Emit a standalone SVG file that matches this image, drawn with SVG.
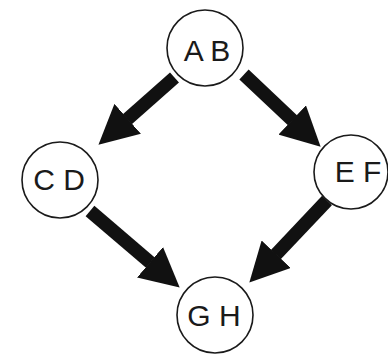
<svg xmlns="http://www.w3.org/2000/svg" width="388" height="354" viewBox="0 0 388 354">
  <style>
    .node circle { fill: #ffffff; stroke: #1a1a1a; stroke-width: 1.6; }
    .node text { font-family: "Liberation Sans", Arial, sans-serif; font-size: 30px; fill: #1a1a1a; text-anchor: middle; }
    .edge { stroke: #111111; stroke-width: 13.5; fill: none; marker-end: url(#head); }
  </style>
  <defs>
    <marker id="head" markerUnits="userSpaceOnUse" markerWidth="40" markerHeight="40" viewBox="0 0 40 40" refX="0.5" refY="20" orient="auto">
      <path d="M0,0 L39,20 L0,40 z" fill="#111111"/>
    </marker>
  </defs>

  <g id="connectors">
    <line class="edge" x1="174.5" y1="77.5" x2="127.3" y2="119.2"/>
    <line class="edge" x1="244" y1="74.5" x2="292.6" y2="120.3"/>
    <line class="edge" x1="90" y1="211" x2="150.4" y2="262.6"/>
    <line class="edge" x1="327" y1="200.5" x2="275.8" y2="254.6"/>
  </g>

  <g id="node-ab" class="node">
    <circle cx="205" cy="48" r="38"/>
    <text x="207" y="61">A B</text>
  </g>
  <g id="node-cd" class="node">
    <circle cx="60" cy="180" r="38"/>
    <text x="59" y="190">C D</text>
  </g>
  <g id="node-ef" class="node">
    <circle cx="351" cy="172" r="37"/>
    <text x="358" y="182">E F</text>
  </g>
  <g id="node-gh" class="node">
    <circle cx="215" cy="315" r="38"/>
    <text x="214" y="326">G H</text>
  </g>
</svg>
